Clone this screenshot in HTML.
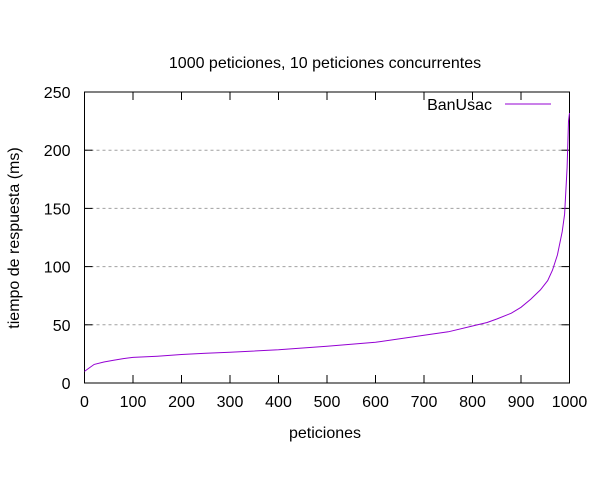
<!DOCTYPE html>
<html><head><meta charset="utf-8"><style>
body{margin:0;background:#fff}
text{font-family:"Liberation Sans",sans-serif;font-size:16px;fill:#000}
</style></head><body>
<svg id="chart" width="600" height="480" xmlns="http://www.w3.org/2000/svg">
<rect width="600" height="480" fill="#fff"/>
<text x="325" y="68" text-anchor="middle" font-size="15">1000 peticiones, 10 peticiones concurrentes</text>
<g id="grid"></g><g id="axes"></g>
<path id="series" fill="none" stroke="#9400d3" stroke-width="1"/>
<text x="325" y="438" text-anchor="middle">peticiones</text>
<text transform="translate(19,238) rotate(-90)" text-anchor="middle">tiempo de respuesta (ms)</text>
<g>
<text x="492" y="110" text-anchor="end">BanUsac</text>
<line x1="505" y1="104" x2="551" y2="104" stroke="#9400d3"/>
</g>
</svg>
<script>
const xTicks=[0,100,200,300,400,500,600,700,800,900,1000];
const yTicks=[0,50,100,150,200,250];
const requests=[0,10,20,40,60,80,100,150,200,250,300,400,500,600,700,750,800,830,850,880,900,920,940,955,965,975,985,990,995,998,1000];
const responseMs=[10,13,16,18,19.5,21,22,23,24.5,25.5,26.5,28.5,31.5,35,41,44,49,52,55,60,65,72,80,88,97,110,130,145,185,225,232];
const L=84.5,R=569.5,T=92,B=383;
const sx=v=>L+(R-L)*v/1000, sy=v=>B-(B-T)*v/250;
const ns="http://www.w3.org/2000/svg";
const g=document.getElementById('grid'),a=document.getElementById('axes');
function mk(tag,attrs,parent){const e=document.createElementNS(ns,tag);for(const k in attrs)e.setAttribute(k,attrs[k]);parent.appendChild(e);return e;}
yTicks.forEach(v=>{const y=sy(v);
 if(v>0&&v<250){const gl=mk('line',{x1:L,x2:R,y1:y,y2:y,stroke:'#a0a0a0','stroke-dasharray':'3,3'},g);
 
 }
 mk('line',{x1:L,x2:L+8,y1:y,y2:y,stroke:'#000'},a);mk('line',{x1:R,x2:R-8,y1:y,y2:y,stroke:'#000'},a);
 const t=mk('text',{x:L-14,y:y+6,'text-anchor':'end'},a);t.textContent=v;
 
 });
xTicks.forEach(v=>{const x=sx(v);
 mk('line',{x1:x,x2:x,y1:B,y2:B-8,stroke:'#000'},a);mk('line',{x1:x,x2:x,y1:T,y2:T+8,stroke:'#000'},a);
 const t=mk('text',{x:x,y:407,'text-anchor':'middle'},a);t.textContent=v;
 
 });
const fr=mk('rect',{x:L,y:T,width:R-L,height:B-T,fill:'none',stroke:'#000'},a);


document.getElementById('series').setAttribute('d',requests.map((r,i)=>(i?'L':'M')+sx(r).toFixed(1)+','+sy(responseMs[i]).toFixed(1)).join(''));
</script>
</body></html>
